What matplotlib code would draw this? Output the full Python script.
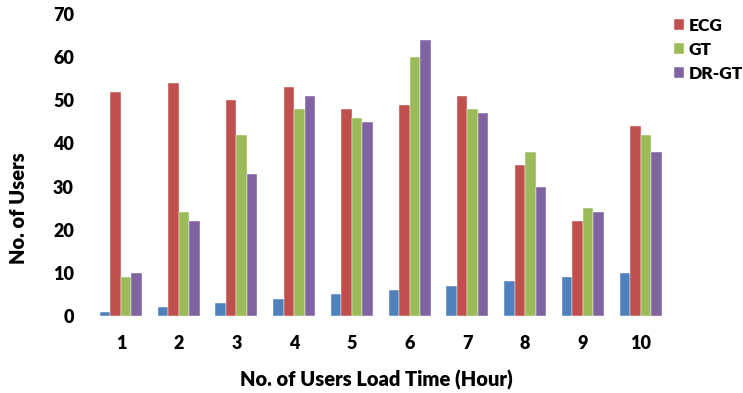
import matplotlib.pyplot as plt
import numpy as np

plt.rcParams['font.family'] = ['Lato', 'DejaVu Sans']

hours = [1, 2, 3, 4, 5, 6, 7, 8, 9, 10]
load = [1, 2, 3, 4, 5, 6, 7, 8, 9, 10]
ecg = [52, 54, 50, 53, 48, 49, 51, 35, 22, 44]
gt = [9, 24, 42, 48, 46, 60, 48, 38, 25, 42]
drgt = [10, 22, 33, 51, 45, 64, 47, 30, 24, 38]

fig = plt.figure(figsize=(7.43, 3.93), dpi=100)
ax = fig.add_axes([92 / 743, 1 - 316 / 393, (669.5 - 92) / 743, 302 / 393])

x = np.arange(len(hours))
w = 1 / 5.5
series = [(load, '#4F81BD', None), (ecg, '#C0504D', 'ECG'),
          (gt, '#9BBB59', 'GT'), (drgt, '#8064A2', 'DR-GT')]
for i, (vals, color, label) in enumerate(series):
    ax.bar(x + (i - 1.5) * w, vals, width=w, color=color, label=label,
           edgecolor='white', linewidth=0.3)

ax.set_xlim(-0.5, len(hours) - 0.5)
ax.set_ylim(0, 70)
ax.set_yticks(range(0, 71, 10))
ax.set_xticks(x)
ax.set_xticklabels(hours)
for s in ax.spines.values():
    s.set_visible(False)
ax.tick_params(length=0, labelsize=13)
ax.tick_params(axis='y', pad=13)
ax.tick_params(axis='x', pad=14)
for t in ax.get_xticklabels() + ax.get_yticklabels():
    t.set_fontweight('heavy')

ax.set_ylabel('No. of Users', fontsize=14.5, fontweight='heavy', va='center')
ax.yaxis.set_label_coords(-0.128, 0.358)
ax.set_xlabel('No. of Users Load Time (Hour)', fontsize=14.5, fontweight='heavy', va='center')
ax.xaxis.set_label_coords(0.492, -0.212)

ax.legend(loc='upper left', bbox_to_anchor=(674 / 743, 1 - 18 / 393),
          bbox_transform=fig.transFigure, frameon=False,
          prop={'weight': 'heavy', 'size': 12.5}, handlelength=0.6,
          handleheight=0.6, handletextpad=0.25, labelspacing=0.45,
          borderpad=0, borderaxespad=0)

fig.savefig('out.png', dpi=100)
